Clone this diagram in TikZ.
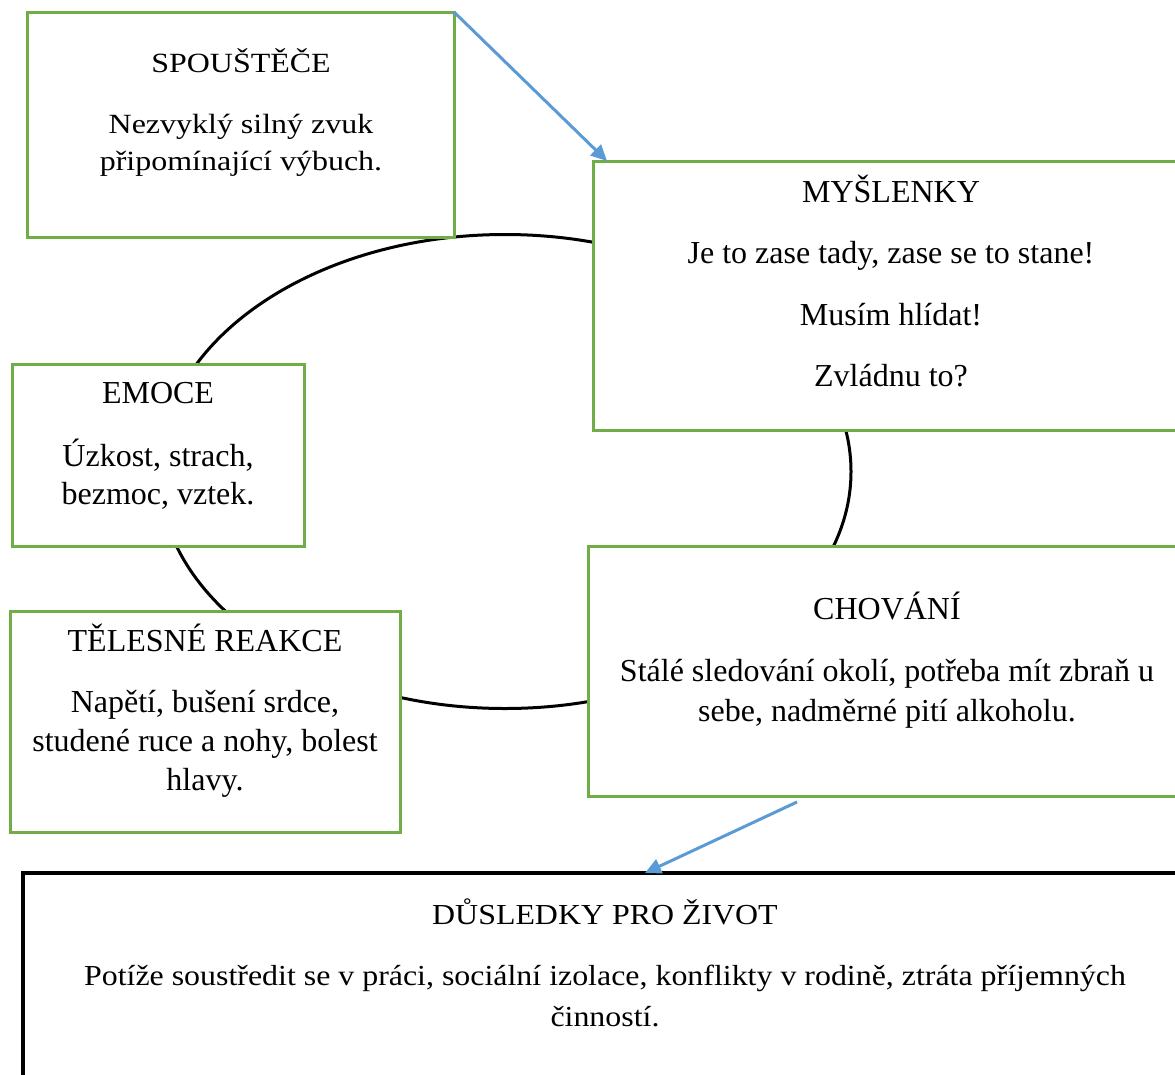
\documentclass[tikz,border=0pt]{standalone}
\usepackage{fontspec}
\setmainfont{Liberation Serif}
\newfontfamily\spoufont{Liberation Serif}[FakeStretch=1.15]
\newfontfamily\dusfont{Liberation Serif}[FakeStretch=1.1]
\usetikzlibrary{arrows.meta}
\definecolor{boxgreen}{RGB}{112,173,71}
\definecolor{arrblue}{RGB}{91,155,213}
\begin{document}
\begin{tikzpicture}[x=1pt,y=-1pt,
  gbox/.style={draw=boxgreen, line width=3pt, fill=white, inner sep=0pt, outer sep=0pt, anchor=north west},
  bbox/.style={draw=black, line width=3.5pt, fill=white, inner sep=0pt, outer sep=0pt, anchor=north west},
  txt/.style={align=center, anchor=base, inner sep=0pt},
  arr/.style={draw=arrblue, line width=3pt, -{Triangle[length=16pt,width=15pt]}},
  cycleline/.style={draw=black, line width=3pt}]
\useasboundingbox (0,0) rectangle (1175,1074);
\draw[cycleline] (505,471.5) ellipse [x radius=346, y radius=237];
% boxes
\node[gbox, minimum width=427pt, minimum height=225pt] (spou) at (27,12) {};
\node[gbox, minimum width=596pt, minimum height=269pt] (mys) at (593,161) {};
\node[gbox, minimum width=292pt, minimum height=182pt] (emo) at (12,364) {};
\node[gbox, minimum width=390pt, minimum height=221pt] (tel) at (10,611) {};
\node[gbox, minimum width=598pt, minimum height=250pt] (cho) at (588,546) {};
\node[bbox, minimum width=1164pt, minimum height=240pt] (dus) at (23,873) {};
% texts (anchored at the baseline of their last line)
\node[txt, font={\spoufont\fontsize{27.8}{37.7}\selectfont}] (spoutxt) at (241,170.7)
  {SPOUŠTĚČE\\[22.6pt]Nezvyklý silný zvuk\\připomínající výbuch.};
\node[txt, font={\fontsize{32}{39}\selectfont}] (mystxt) at (891,386.7)
  {MYŠLENKY\\[22.5pt]Je to zase tady, zase se to stane!\\[22.5pt]Musím hlídat!\\[22.5pt]Zvládnu to?};
\node[txt, font={\fontsize{32}{38}\selectfont}] (emotxt) at (158,504.3)
  {EMOCE\\[24.7pt]Úzkost, strach,\\bezmoc, vztek.};
\node[txt, font={\fontsize{32}{39}\selectfont}] (teltxt) at (205,790.7)
  {TĚLESNÉ REAKCE\\[22.7pt]Napětí, bušení srdce,\\studené ruce a nohy, bolest\\hlavy.};
\node[txt, font={\fontsize{32}{40}\selectfont}] (chotxt) at (887,721.7)
  {CHOVÁNÍ\\[22.4pt]Stálé sledování okolí, potřeba mít zbraň u\\sebe, nadměrné pití alkoholu.};
\node[txt, font={\dusfont\fontsize{29}{41.7}\selectfont}] (dustxt) at (605,1026.7)
  {DŮSLEDKY PRO ŽIVOT\\[19pt]Potíže soustředit se v práci, sociální izolace, konflikty v rodině, ztráta příjemných\\činností.};
% connectors
\coordinate (chofoot) at ([xshift=209pt,yshift=-6pt]cho.south west);
\draw[arr] (spou.north east) -- ([xshift=14pt]mys.north west);
\draw[arr] (chofoot) -- ([xshift=622pt]dus.north west);
\end{tikzpicture}
\end{document}
